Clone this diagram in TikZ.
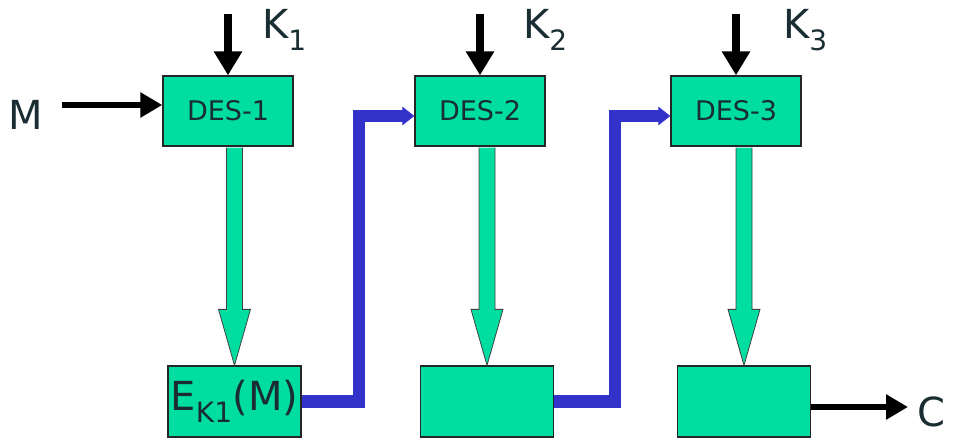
\documentclass[tikz,border=0pt]{standalone}
\usepackage{fontspec}
\setmainfont{DejaVu Sans}
\usetikzlibrary{arrows.meta,calc}
\definecolor{boxgreen}{RGB}{0,221,160}
\definecolor{lineblue}{RGB}{51,51,204}
\definecolor{txt}{RGB}{25,45,50}
\begin{document}
\begin{tikzpicture}[x=1pt,y=-1pt,
  box/.style={draw=black!85, line width=1.3pt, fill=boxgreen, minimum width=130pt, minimum height=70pt, inner sep=0pt, font=\fontsize{27}{30}\selectfont, text=txt},
  obox/.style={box, minimum width=133pt, minimum height=71pt, font=\fontsize{40}{42}\selectfont},
  lbl/.style={font=\fontsize{40}{42}\selectfont, text=txt, inner sep=0pt},
  karrow/.style={line width=8pt, -{Triangle[length=24pt,width=27pt]}},
  blackarrow/.style={line width=6pt, -{Triangle[length=22pt,width=24pt]}},
  bluearrow/.style={draw=lineblue, line width=12.5pt, -{Triangle[length=12pt,width=18pt]}},
  greenarrow/.style={fill=boxgreen, draw=black!75, line width=0.8pt, line join=miter}
]
\useasboundingbox (0,0) rectangle (974,439);

% boxes
\node[box] (D1) at (228,111) {DES-1};
\node[box] (D2) at (480,111) {DES-2};
\node[box] (D3) at (736,111) {DES-3};
\node[obox] (B1) at (234.5,401.5) {E\textsubscript{K1}(M)};
\node[obox] (B2) at (487,401.5) {};
\node[obox] (B3) at (744,401.5) {};

% key inputs
\foreach \d/\k/\kx in {D1/1/262, D2/2/523, D3/3/783}{
  \coordinate (top\d) at ($(\d.north)+(0,-61)$);
  \draw[karrow] (top\d) -- (\d.north);
  \node[lbl, anchor=west] (K\k) at (\kx,30) {K\textsubscript{\k}};
}

% M input
\node[lbl] (M) at (26,115) {M};
\coordinate (ms) at (62,105);
\draw[blackarrow] (ms) -- (ms -| D1.west);

% output C
\node[lbl] (C) at (931,412) {C};
\coordinate (ce) at (908,407);
\draw[blackarrow] (ce -| B3.east) -- (ce);

% green block arrows
\foreach \d/\b in {D1/B1, D2/B2, D3/B3}{
  \path (\b.north |- \d.south) coordinate (s\d) (\b.north) coordinate (e\d);
  \draw[greenarrow] ($(s\d)+(-8,1)$) -- ($(e\d)+(-8,-56)$) -- ($(e\d)+(-16,-56)$) -- (e\d)
     -- ($(e\d)+(16,-56)$) -- ($(e\d)+(8,-56)$) -- ($(s\d)+(8,1)$);
}

% blue connectors
\coordinate (t1) at (359,116);
\coordinate (t2) at (615,116);
\draw[bluearrow] (B1.east) -| (t1) -- (t1 -| D2.west);
\draw[bluearrow] (B2.east) -| (t2) -- (t2 -| D3.west);
\end{tikzpicture}
\end{document}
